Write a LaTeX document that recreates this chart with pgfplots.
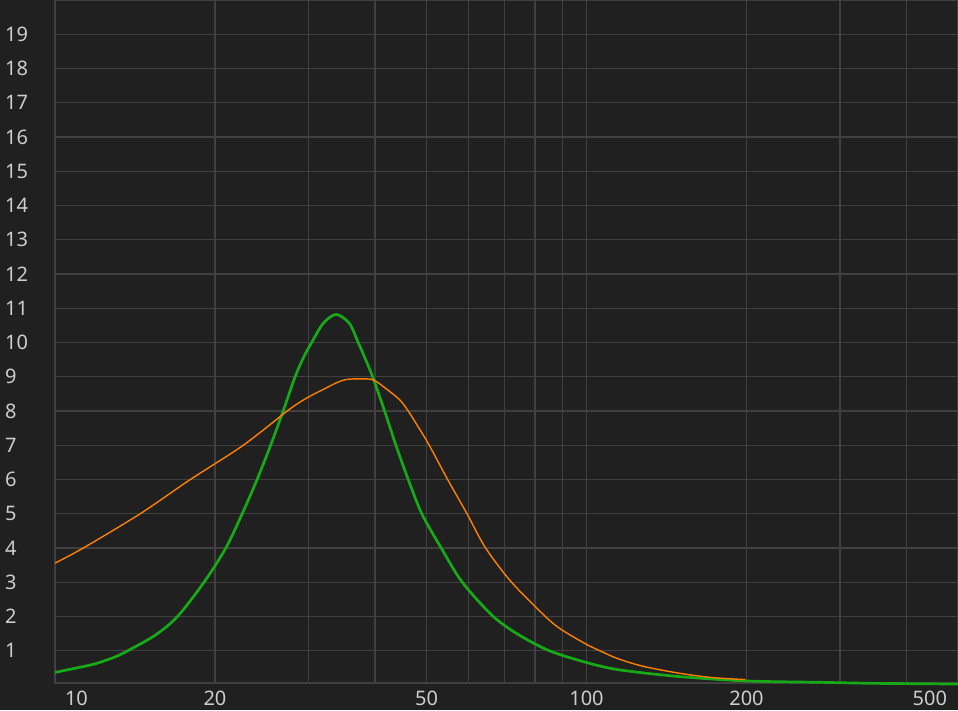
\documentclass[border=0pt]{standalone}
\usepackage{pgfplots}
\pgfplotsset{compat=1.18}
\usepackage{fontspec}
\setmainfont{Noto Sans}

\definecolor{bgcol}{RGB}{32,32,32}
\definecolor{gridcol}{RGB}{64,64,64}
\definecolor{labcol}{RGB}{205,205,205}
\definecolor{grn}{RGB}{22,170,22}
\definecolor{org}{RGB}{255,128,0}

\begin{document}
\begin{tikzpicture}
\fill[bgcol] (-55pt,-27pt) rectangle (903pt,683pt);
\begin{axis}[
    at={(0,0)}, anchor=south west,
    scale only axis, width=903pt, height=683pt,
    xmode=log, xmin=10, xmax=500,
    ymin=0.06, ymax=20,
    xtick={10,20,50,100,200,500},
    xticklabels={\makebox[0pt][l]{\hspace{10pt}10},20,50,100,200,\makebox[0pt][r]{500\hspace{11pt}}},
    minor xtick={30,40,60,70,80,90,300,400},
    ytick={1,2,3,4,5,6,7,8,9,10,11,12,13,14,15,16,17,18,19},
    yticklabels={1,2,3,4,5,6,7,8,9,10,11,12,13,14,15,16,17,18,19},
    xmajorgrids, xminorgrids, ymajorgrids,
    major grid style={gridcol, line width=1.3pt},
    minor grid style={gridcol, line width=1.3pt},
    axis line style={gridcol, line width=1.3pt},
    major tick length=0pt, minor tick length=0pt,
    tick style={draw=none},
    tick label style={font=\fontsize{20}{24}\selectfont, text=labcol, inner sep=0pt},
    xticklabel style={anchor=base, yshift=-22.7pt},
    yticklabel style={anchor=west, xshift=-50pt},
    clip=false,
]
% green response
\addplot[grn, line width=2.7pt, smooth] coordinates {
(10,0.37) (10.91,0.49) (11.9,0.62) (12.97,0.82) (13.7,1.0) (15.42,1.45)
(17.0,2.0) (19.07,3.0) (20.96,4.0) (22.5,5.0) (24.0,6.0) (25.45,7.0)
(26.87,8.0) (28.3,9.0) (29.4,9.59) (30.4,10.0) (31.97,10.56) (33.8,10.82)
(35.8,10.56) (37.2,10.0) (38.2,9.59) (39.6,9.0) (41.7,8.0) (43.8,7.0)
(46.2,6.0) (49.0,5.0) (53.3,4.0) (58.4,3.0) (66.8,2.0) (74.9,1.45)
(85.2,1.0) (99.4,0.67) (114.6,0.45) (148.8,0.25) (199.5,0.12) (275,0.08)
(350,0.05) (500,0.03)
};
% orange response
\addplot[org, line width=1.4pt, smooth] coordinates {
(10,3.56) (11.3,4.0) (14.46,5.0) (17.97,6.0) (22.6,7.0) (27.67,8.06)
(30,8.41) (31.97,8.63) (33.8,8.82) (35.3,8.92) (37.5,8.94) (39.7,8.91)
(41.9,8.66) (44.5,8.33) (46.2,8.0) (48.4,7.5) (50.6,7.0) (54.8,6.0)
(59.6,5.0) (64.6,4.0) (72.3,3.0) (83.7,2.0) (89.5,1.63) (99.4,1.21)
(106,1.0) (114.6,0.77) (127.6,0.55) (148.8,0.35) (172.2,0.22) (199,0.16)
};
\end{axis}
\pgfresetboundingbox
\path (-55pt,-27pt) rectangle (903pt,683pt);
\end{tikzpicture}
\end{document}
